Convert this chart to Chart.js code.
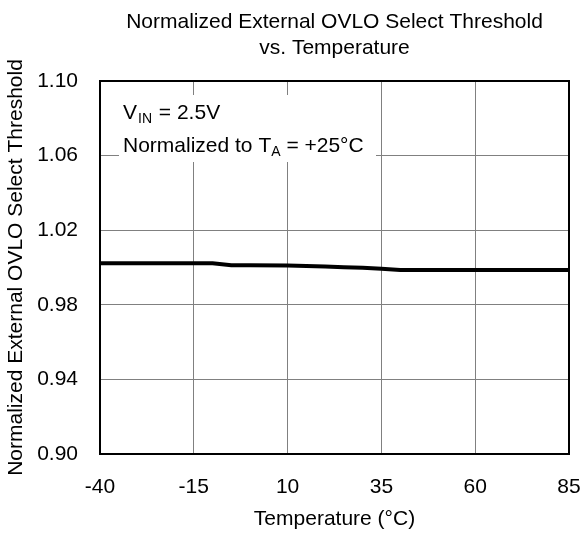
<!DOCTYPE html>
<html>
<head>
<meta charset="utf-8">
<script src="https://cdn.jsdelivr.net/npm/chart.js@4.4.1/dist/chart.umd.min.js"></script>
<style>
  html, body { margin: 0; padding: 0; background: #fff; }
  #wrap { width: 582px; height: 534px; }
</style>
</head>
<body>
<div id="wrap"><canvas id="c" width="582" height="534"></canvas></div>
<script>
// Data
const temperatures = [-40, -30, -20, -10, -5, 0, 10, 20, 25, 30, 35, 40, 50, 60, 70, 85];
const threshold    = [1.0023, 1.0023, 1.0023, 1.0023, 1.0012, 1.0012, 1.0011, 1.0005, 1.0001, 0.9998, 0.9993, 0.9987, 0.9987, 0.9987, 0.9987, 0.9987];
const xTicks = [-40, -15, 10, 35, 60, 85];
const yTicks = [0.90, 0.94, 0.98, 1.02, 1.06, 1.10];
const titleLines = ['Normalized External OVLO Select Threshold', 'vs. Temperature'];
const xTitle = 'Temperature (°C)';
const yTitle = 'Normalized External OVLO Select Threshold';

const FONT = '"Liberation Sans", Arial, Helvetica, sans-serif';

const framePlugin = {
  id: 'framePlugin',
  beforeDatasetsDraw(chart) {
    const { ctx, chartArea: a } = chart;
    ctx.save();
    ctx.fillStyle = '#ffffff';
    ctx.fillRect(a.left + 19, a.top + 14, 257, 67);
    ctx.fillStyle = '#000000';
    ctx.textBaseline = 'alphabetic';
    ctx.textAlign = 'left';
    const big = '21px ' + FONT, small = '14px ' + FONT;
    // line 1
    let x = a.left + 23, y = a.top + 38;
    ctx.font = big; ctx.fillText('V', x, y); x += ctx.measureText('V').width + 1;
    ctx.font = small; ctx.fillText('IN', x, y + 4); x += ctx.measureText('IN').width + 1;
    ctx.font = big; ctx.fillText(' = 2.5V', x, y);
    // line 2
    x = a.left + 23; y = a.top + 71;
    ctx.font = big; ctx.fillText('Normalized to T', x, y); x += ctx.measureText('Normalized to T').width;
    ctx.font = small; ctx.fillText('A', x, y + 4); x += ctx.measureText('A').width;
    ctx.font = big; ctx.fillText(' = +25°C', x, y);
    ctx.restore();
  },
  afterDatasetsDraw(chart) {
    const { ctx, chartArea: a } = chart;
    ctx.save();
    ctx.strokeStyle = '#000';
    ctx.lineWidth = 2;
    ctx.strokeRect(a.left, a.top, a.right - a.left, a.bottom - a.top);
    ctx.restore();
  }
};

new Chart(document.getElementById('c'), {
  type: 'line',
  data: {
    datasets: [{
      data: temperatures.map((t, i) => ({ x: t, y: threshold[i] })),
      borderColor: '#000',
      borderWidth: 4,
      pointRadius: 0,
      tension: 0,
      fill: false
    }]
  },
  options: {
    responsive: false,
    animation: false,
    devicePixelRatio: 1,
    layout: { padding: { left: 0, right: 13, top: 0, bottom: 0 } },
    plugins: {
      legend: { display: false },
      tooltip: { enabled: false },
      title: {
        display: true,
        text: titleLines,
        fullSize: false,
        color: '#000',
        font: { family: FONT, size: 21, weight: 'normal', lineHeight: 1.2 },
        padding: { top: 10, bottom: 20.6 }
      }
    },
    scales: {
      x: {
        type: 'linear',
        min: -40, max: 85,
        afterBuildTicks: s => { s.ticks = xTicks.map(v => ({ value: v })); },
        afterFit: s => { s.height = 80; s.paddingLeft = 0; s.paddingRight = 0; },
        grid: { color: '#808080', lineWidth: 1, drawTicks: false },
        border: { display: false },
        ticks: { color: '#000', padding: 21, maxRotation: 0, font: { family: FONT, size: 21 }, callback: v => String(v) },
        title: { display: true, text: xTitle, color: '#000', font: { family: FONT, size: 21 }, padding: { top: 0, bottom: 2 } }
      },
      y: {
        type: 'linear',
        min: 0.90, max: 1.10,
        afterBuildTicks: s => { s.ticks = yTicks.map(v => ({ value: v })); },
        afterFit: s => { s.width = 100; s.paddingTop = 0; s.paddingBottom = 0; },
        grid: { color: '#808080', lineWidth: 1, drawTicks: false },
        border: { display: false },
        ticks: { color: '#000', padding: 22, font: { family: FONT, size: 21 }, callback: v => Number(v).toFixed(2) },
        title: { display: true, text: yTitle, color: '#000', font: { family: FONT, size: 21 }, padding: { top: 4, bottom: 0 } }
      }
    }
  },
  plugins: [framePlugin]
});
</script>
</body>
</html>
